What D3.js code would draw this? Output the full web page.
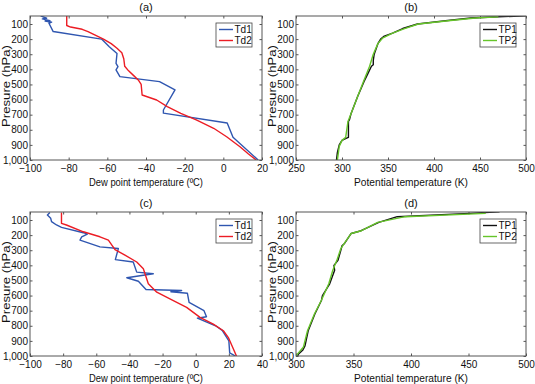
<!DOCTYPE html>
<html>
<head>
<meta charset="utf-8">
<script src="https://cdn.jsdelivr.net/npm/d3@7"></script>
<style>
  body { margin: 0; background: #fff; }
  svg text { font-family: "Liberation Sans", Arial, sans-serif; fill: #111; }
</style>
</head>
<body>
<svg id="chart" width="535" height="384"></svg>
<script>
// pressure ticks shared by all panels
const pressureTicks = [100, 200, 300, 400, 500, 600, 700, 800, 900, 1000];

// (a) dew point, [pressure hPa, Td degC]
const aTd1 = [[46,-94.5],[62,-91.4],[66,-93.6],[78,-89.7],[80,-92.2],[88,-88.8],[95,-90.2],[150,-88],
  [200,-63],[250,-59],[295,-55],[360,-55.5],[382,-54.5],[404,-55.5],[448,-53.5],[481,-33],[536,-25],
  [669,-31],[690,-31],[755,2],[850,5],[1000,18]];
const aTd2 = [[46,-81],[110,-81],[120,-79],[135,-73],[150,-70],[175,-66],[200,-62],[230,-58],[260,-55],
  [290,-52.5],[330,-51.5],[380,-51],[410,-49],[440,-46.5],[470,-44],[500,-42.5],[570,-42],[603,-34.5],
  [647,-29],[691,-22],[735,-14],[790,-5],[846,1.7],[912,8.6],[960,13],[1000,17]];

// (b) potential temperature, [pressure hPa, theta K]
const bTP1 = [[46,500],[52,470],[60,440],[77,415],[100,382],[130,366],[160,355],[180,346],[200,342],
  [230,339],[300,335],[340,334],[370,334],[380,332],[430,328],[480,324],[580,317],[690,310],[735,308],
  [745,307],[850,307],[855,305],[870,300],[900,297],[950,295],[1000,294]];
const bTP2 = [[52,470],[60,445],[77,418],[100,383],[130,368],[160,355],[194,344],[230,339],[300,334],
  [380,330],[470,324],[580,317],[690,310],[745,306.5],[850,304],[870,300],[910,297],[1000,295]];

// (c) dew point
const cTd1 = [[51,-88],[67,-89.5],[89,-87.5],[111,-87],[133,-84],[149,-81],[184,-67.8],[193,-65.4],
  [211,-68.8],[233,-69.8],[278,-57.8],[289,-46.7],[362,-48.5],[378,-37.7],[445,-35.6],[456,-25.6],
  [482,-41.6],[505,-34.6],[560,-30],[567,-8.5],[575,-15],[585,-5],[645,-4],[700,5],[740,6.5],[750,1],
  [800,12],[830,16],[900,20],[980,20.5],[1000,24]];
const cTd2 = [[51,-81],[122,-81],[133,-78],[178,-67.8],[211,-57.8],[233,-52.7],[296,-48.7],[333,-42.7],
  [378,-35.6],[422,-31.6],[489,-29.6],[522,-28.6],[578,-23.5],[633,-13.5],[678,-5.5],[744,2.6],
  [789,10.6],[833,16.7],[878,19.7],[1000,24.6]];

// (d) potential temperature
const dTP1 = [[45,477],[56,451],[78,388],[116,372],[171,356.6],[189,348],[255,342.2],[270,340],[289,339.4],
  [367,336.5],[400,333],[433,333.6],[522,329.3],[600,323],[633,322.1],[722,316.4],[833,310.6],
  [933,307.8],[960,306],[989,302],[1000,301.5]];
const dTP2 = [[56,465],[78,395],[116,371],[171,357],[189,348],[255,342],[289,339],[367,335.5],
  [433,332],[522,328.5],[633,322],[722,316],[833,310],[940,306.5],[989,301],[1000,300]];

const panels = [
  { title: '(a)', left: 30, top: 16, w: 232, xDom: [-100, 20], xTicks: [-100,-80,-60,-40,-20,0,20],
    xLabel: 'Dew point temperature (ºC)', series: [aTd1, aTd2], names: ['Td1','Td2'], colors: ['#2f56b0','#ec1c24'] },
  { title: '(b)', left: 296, top: 16, w: 230, xDom: [250, 500], xTicks: [250,300,350,400,450,500],
    xLabel: 'Potential temperature (K)', series: [bTP1, bTP2], names: ['TP1','TP2'], colors: ['#111111','#66c52a'] },
  { title: '(c)', left: 30, top: 212, w: 232, xDom: [-100, 40], xTicks: [-100,-80,-60,-40,-20,0,20,40],
    xLabel: 'Dew point temperature (ºC)', series: [cTd1, cTd2], names: ['Td1','Td2'], colors: ['#2f56b0','#ec1c24'] },
  { title: '(d)', left: 296, top: 212, w: 230, xDom: [300, 500], xTicks: [300,350,400,450,500],
    xLabel: 'Potential temperature (K)', series: [dTP1, dTP2], names: ['TP1','TP2'], colors: ['#111111','#66c52a'] }
];

const H = 144;
const svg = d3.select('#chart');

panels.forEach(p => {
  const W = p.w;
  const g = svg.append('g').attr('transform', `translate(${p.left},${p.top})`);
  const x = d3.scaleLinear().domain(p.xDom).range([0, W]);
  const y = d3.scaleLinear().domain([47, 1000]).range([0, H]);

  // axes, ticks inward like matlab
  const fmt = d => d < 0 ? '\u2212' + Math.abs(d) : d;
  const xb = g.append('g').attr('transform', `translate(0,${H})`)
    .call(d3.axisBottom(x).tickValues(p.xTicks).tickSizeInner(-2.5).tickSizeOuter(0).tickPadding(5).tickFormat(fmt));
  const xt = g.append('g').call(d3.axisTop(x).tickValues(p.xTicks).tickSizeInner(-2.5).tickSizeOuter(0).tickFormat(''));
  const yl = g.append('g')
    .call(d3.axisLeft(y).tickValues(pressureTicks).tickSizeInner(-2.5).tickSizeOuter(0).tickPadding(2));
  const yr = g.append('g').attr('transform', `translate(${W},0)`)
    .call(d3.axisRight(y).tickValues(pressureTicks).tickSizeInner(-2.5).tickSizeOuter(0).tickFormat(''));
  [xb, xt, yl, yr].forEach(a => {
    a.select('.domain').remove();
    a.selectAll('line').attr('stroke', '#555');
    a.selectAll('text').style('font-size', '10px').attr('fill', '#111');
  });

  const line = d3.line().x(d => x(d[1])).y(d => y(d[0]));
  const clip = 'clip' + p.title.replace(/\W/g, '');
  g.append('clipPath').attr('id', clip).append('rect').attr('width', W).attr('height', H);
  p.series.forEach((s, i) => {
    g.append('path').datum(s).attr('d', line)
      .attr('clip-path', `url(#${clip})`)
      .attr('fill', 'none').attr('stroke', p.colors[i]).attr('stroke-width', 1.4)
      .attr('stroke-linejoin', 'round');
  });

  g.append('rect').attr('width', W).attr('height', H)
    .attr('fill', 'none').attr('stroke', '#555').attr('stroke-width', 1);

  // title and labels
  g.append('text').attr('x', W / 2).attr('y', -5).attr('text-anchor', 'middle')
    .style('font-size', '11px').text(p.title);
  g.append('text').attr('x', W / 2).attr('y', H + 26).attr('text-anchor', 'middle')
    .attr('textLength', 114).attr('lengthAdjust', 'spacingAndGlyphs')
    .style('font-size', '10.5px').text(p.xLabel);
  g.append('text').attr('transform', `translate(-20.5,${H / 2 - 2}) rotate(-90)`).attr('text-anchor', 'middle')
    .attr('textLength', 82).attr('lengthAdjust', 'spacingAndGlyphs')
    .style('font-size', '10px').text('Presure (hPa)');

  // legend
  const lg = g.append('g').attr('transform', `translate(${W - 46},7)`);
  lg.append('rect').attr('width', 36).attr('height', 24).attr('fill', '#fff')
    .attr('stroke', '#444').attr('stroke-width', 0.8);
  p.names.forEach((n, i) => {
    lg.append('line').attr('x1', 3).attr('x2', 17).attr('y1', 6.5 + i * 11).attr('y2', 6.5 + i * 11)
      .attr('stroke', p.colors[i]).attr('stroke-width', 1.4);
    lg.append('text').attr('x', 18.5).attr('y', 10 + i * 11).style('font-size', '10px').text(n);
  });
});
</script>
</body>
</html>
